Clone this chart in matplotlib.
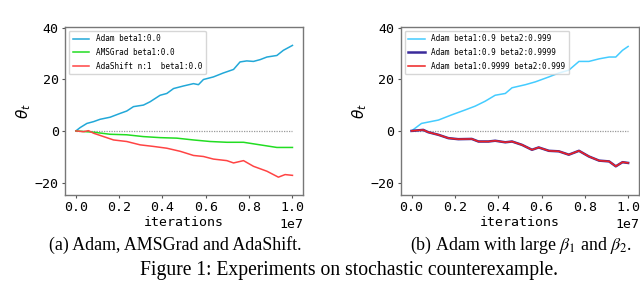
import numpy as np
import matplotlib
matplotlib.use("Agg")
import matplotlib.pyplot as plt

# iterations as fractions of 1e7
left_adam_x = [0, .020, .051, .082, .112, .158, .205, .235, .266, .312, .343, .389, .420, .451, .497,
               .543, .566, .589, .635, .680, .728, .758, .789, .820, .851, .882, .928, .958, 1.0]
left_adam_y = [0, 1.3, 2.9, 3.6, 4.5, 5.3, 6.8, 7.7, 9.4, 10, 11.3, 13.8, 14.5, 16.4, 17.4,
               18.3, 17.9, 19.9, 20.9, 22.4, 23.8, 26.7, 27.1, 26.9, 27.6, 28.6, 29.2, 31.2, 33.1]

left_ams_x = [0, .082, .158, .235, .312, .389, .466, .543, .620, .697, .774, .851, .928, 1.0]
left_ams_y = [0, -0.5, -1.3, -1.5, -2.2, -2.6, -2.8, -3.5, -4.1, -4.4, -4.4, -5.4, -6.4, -6.4]

left_shift_x = [0, .035, .058, .082, .128, .174, .235, .297, .358, .420, .482, .543, .589, .635,
                .697, .728, .774, .820, .882, .935, .966, 1.0]
left_shift_y = [0, -0.3, 0.1, -0.9, -2.2, -3.5, -4.1, -5.4, -6, -6.7, -7.9, -9.5, -9.9, -10.9,
                -11.5, -12.4, -11.5, -13.7, -15.6, -17.9, -16.9, -17.2]

right_a_x = [0, .046, .124, .185, .247, .294, .340, .386, .433, .464, .526, .572, .634, .680,
             .726, .773, .819, .866, .912, .943, .974, 1.0]
right_a_y = [0, 2.9, 4.2, 6.2, 8.1, 9.6, 11.5, 13.8, 14.5, 16.7, 17.9, 19, 20.9, 22.4,
             23.5, 26.9, 26.9, 27.9, 28.6, 28.6, 31.2, 32.7]

right_b_x = [0, .054, .077, .124, .170, .216, .278, .309, .355, .386, .433, .464, .510, .556,
             .587, .634, .680, .726, .773, .819, .866, .912, .943, .974, 1.0]
right_b_y = [0, 0.4, -0.5, -1.5, -2.8, -3.2, -3.1, -4.1, -4.1, -3.8, -4.4, -4.1, -5.4, -7.3,
             -6.4, -7.7, -7.9, -9.2, -7.7, -9.9, -11.5, -11.8, -13.7, -12.1, -12.4]

left_labels = ["Adam beta1:0.0", "AMSGrad beta1:0.0", "AdaShift n:1  beta1:0.0"]
right_labels = ["Adam beta1:0.9 beta2:0.999", "Adam beta1:0.9 beta2:0.9999",
                "Adam beta1:0.9999 beta2:0.999"]

mono = "DejaVu Sans Mono"
fig = plt.figure(figsize=(6.4, 2.83), dpi=100)
ax1 = fig.add_axes([0.1016, 0.311, 0.3723, 0.5943])
ax2 = fig.add_axes([0.6261, 0.311, 0.3723, 0.5943])

def X(v):
    return np.array(v) * 1e7

ax1.plot(X(left_adam_x), left_adam_y, color="#22a8d8", lw=1.1, label=left_labels[0])
ax1.plot(X(left_ams_x), left_ams_y, color="#22dd22", lw=1.1, label=left_labels[1])
ax1.plot(X(left_shift_x), left_shift_y, color="#ff4444", lw=1.1, label=left_labels[2])

ax2.plot(X(right_a_x), right_a_y, color="#44ccff", lw=1.1, label=right_labels[0])
ax2.plot(X(right_b_x), right_b_y, color="#3a2a9a", lw=1.8, label=right_labels[1])
ax2.plot(X(right_b_x), right_b_y, color="#ee2222", lw=1.1, label=right_labels[2])

for ax in (ax1, ax2):
    ax.plot([0, 1e7], [0, 0], color="#999999", lw=0.9, ls=(0, (1, 1)), zorder=0)
    ax.set_xlim(-0.05e7, 1.05e7)
    ax.set_ylim(-24.8, 40.3)
    ax.set_yticks([-20, 0, 20, 40])
    ax.set_xticks([0, 0.2e7, 0.4e7, 0.6e7, 0.8e7, 1.0e7])
    ax.tick_params(labelsize=9.5, length=2.5, width=0.8, color="#555555", pad=2)
    for lab in ax.get_xticklabels() + ax.get_yticklabels():
        lab.set_family(mono)
    ax.xaxis.get_offset_text().set_family(mono)
    ax.xaxis.get_offset_text().set_fontsize(9.5)
    for s in ax.spines.values():
        s.set_color("#777777")
        s.set_linewidth(1.0)
    ax.set_xlabel("iterations", family=mono, fontsize=9.5, labelpad=1)
    ax.set_ylabel(r"$\theta_t$", fontsize=11, labelpad=1)
    ax.legend(loc="upper left", prop={"family": mono, "size": 5.5},
              handlelength=2.2, borderpad=0.5, labelspacing=0.6)

serif = "Liberation Serif"
fig.text(175.5 / 640, 1 - 245 / 283, "(a) Adam, AMSGrad and AdaShift.",
         family=serif, fontsize=12.9, ha="center", va="center")
fig.text(521 / 640, 1 - 245 / 283, r"(b) Adam with large $\beta_1$ and $\beta_2$.",
         family=serif, fontsize=12.9, ha="center", va="center", math_fontfamily="stix")
fig.text(349.5 / 640, 1 - 271 / 283, "Figure 1: Experiments on stochastic counterexample.",
         family=serif, fontsize=14.1, ha="center", va="center")

fig.savefig("out.png", dpi=100)
